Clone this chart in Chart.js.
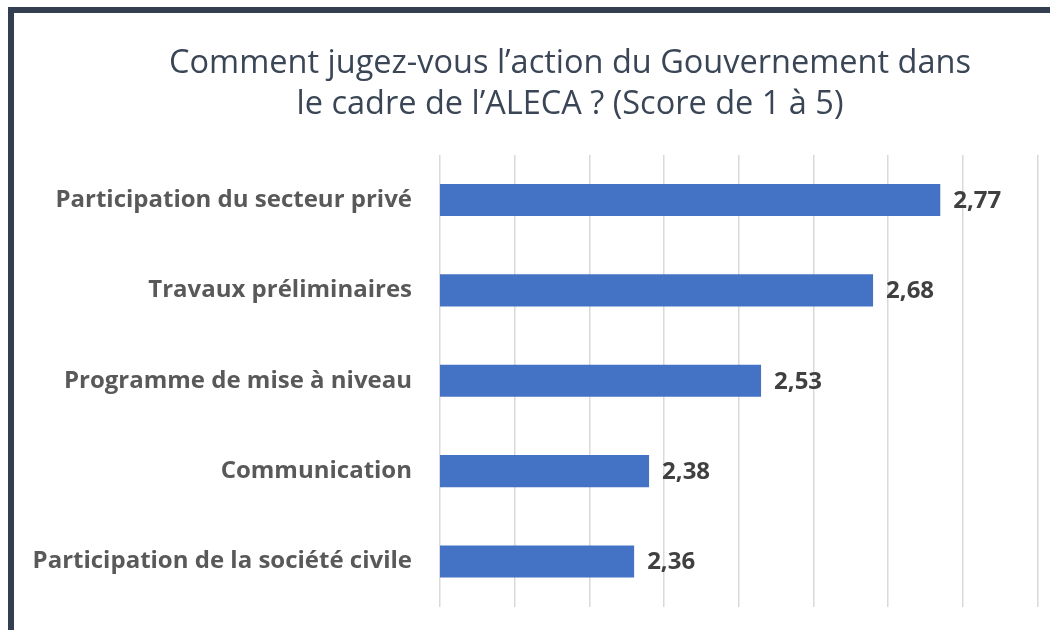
<!DOCTYPE html>
<html>
<head>
<meta charset="utf-8">
<script src="https://cdn.jsdelivr.net/npm/chart.js@4"></script>
<style>
  html, body { margin: 0; padding: 0; background: #fff; overflow: hidden; width: 1050px; height: 630px; }
  #frame {
    position: absolute; left: 8px; top: 7px;
    width: 1120px; height: 640px;
    border: 6px solid #333f50; box-sizing: border-box; background: #fff;
  }
  #myChart { display: block; }
</style>
</head>
<body>
<div id="frame"><canvas id="myChart" width="1108" height="628"></canvas></div>
<script>
const categories = [
  "Participation du secteur privé",
  "Travaux préliminaires",
  "Programme de mise à niveau",
  "Communication",
  "Participation de la société civile",
];
const scores = [2.77, 2.68, 2.53, 2.38, 2.36];
const titleLines = [
  "Comment jugez-vous l’action du Gouvernement dans",
  "le cadre de l’ALECA ? (Score de 1 à 5)",
];

// value labels next to each bar, French decimal comma
const barLabels = {
  id: "barLabels",
  afterDatasetsDraw(chart) {
    const ctx = chart.ctx;
    const meta = chart.getDatasetMeta(0);
    ctx.save();
    ctx.font = "bold 24px 'Open Sans'";
    ctx.fillStyle = "#404040";
    ctx.textAlign = "left";
    ctx.textBaseline = "middle";
    meta.data.forEach((bar, i) => {
      const txt = scores[i].toFixed(2).replace(".", ",");
      ctx.fillText(txt, bar.x + 13, bar.y + 1);
    });
    ctx.restore();
  },
};

const ctx = document.getElementById("myChart").getContext("2d");

const scoreChart = new Chart(ctx, {
  type: "bar",
  data: {
    labels: categories,
    datasets: [
      {
        data: scores,
        backgroundColor: "#4472c4",
        barPercentage: 0.71,
        categoryPercentage: 0.5,
      },
    ],
  },
  plugins: [barLabels],
  options: {
    indexAxis: "y",
    responsive: false,
    animation: false,
    layout: {
      padding: { top: 0, right: 10, bottom: 31, left: 14 },
    },
    plugins: {
      legend: { display: false },
      tooltip: { enabled: false },
      title: {
        display: true,
        text: titleLines,
        color: "#3a4656",
        font: { family: "'Open Sans'", size: 32.5, weight: "normal", lineHeight: 1.26 },
        padding: { top: 30, bottom: 30 },
      },
    },
    scales: {
      x: {
        min: 2.1,
        max: 3.0,
        ticks: { display: false, stepSize: 0.1 },
        grid: { color: "#d9d9d9", lineWidth: 1.5, drawTicks: false },
        border: { display: false },
      },
      y: {
        grid: { display: false },
        border: { display: false },
        ticks: {
          color: "#595959",
          padding: 20,
          font: { family: "'Open Sans'", size: 24, weight: "bold" },
        },
        afterFit(scale) {
          scale.width = 412;
        },
      },
    },
  },
});
</script>
</body>
</html>
